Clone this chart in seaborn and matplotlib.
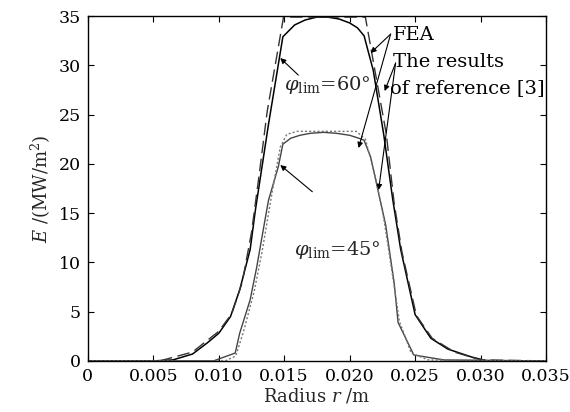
import matplotlib
matplotlib.use("Agg")
import matplotlib.pyplot as plt
import seaborn as sns
import pandas as pd

# ---- data ----
fea60_x = [0.0, 0.0050, 0.0065, 0.0080, 0.0091, 0.0100, 0.0109, 0.0116, 0.0124, 0.0128, 0.0138, 0.0149,
           0.0158, 0.0166, 0.0175, 0.0183, 0.0192, 0.0200, 0.0206, 0.0211, 0.0218, 0.0226, 0.0233,
           0.0239, 0.0250, 0.0262, 0.0275, 0.0293, 0.0305, 0.0350]
fea60_y = [0, 0, 0.1, 0.7, 1.8, 2.8, 4.5, 7.2, 11.3, 15.3, 24.0, 32.9,
           34.1, 34.6, 34.9, 34.9, 34.7, 34.3, 33.8, 33.0, 29.5, 23.0, 16.3,
           11.3, 4.7, 2.3, 1.2, 0.4, 0, 0]

ref60_x = [0.0, 0.0055, 0.0080, 0.0100, 0.0110, 0.0118, 0.0125, 0.0131, 0.0137, 0.01495, 0.0212, 0.0228,
           0.0234, 0.0240, 0.0251, 0.0263, 0.0280, 0.0300, 0.0350]
ref60_y = [0, 0, 0.9, 3.0, 4.8, 8.0, 13.0, 19.0, 25.3, 34.9, 34.9, 23.0,
           16.0, 11.0, 4.6, 2.3, 0.9, 0.1, 0]

fea45_x = [0.0, 0.0096, 0.01126, 0.0116, 0.0124, 0.0129, 0.0134, 0.0138, 0.01455, 0.0149, 0.0155,
           0.0162, 0.0170, 0.0180, 0.0190, 0.0200, 0.0207, 0.0211, 0.0216, 0.0222, 0.02275,
           0.0234, 0.0237, 0.0249, 0.0272, 0.0350]
fea45_y = [0, 0, 0.8, 2.8, 6.2, 9.5, 13.3, 16.3, 19.7, 22.0, 22.6,
           22.9, 23.1, 23.2, 23.1, 22.9, 22.6, 22.4, 20.7, 17.1, 13.8,
           7.9, 3.9, 0.6, 0.1, 0]

ref45_x = [0.0, 0.0105, 0.0113, 0.0119, 0.0127, 0.0133, 0.0140, 0.0147, 0.0152, 0.0160, 0.0205,
           0.0212, 0.0220, 0.0226, 0.0233, 0.0238, 0.0247, 0.0260, 0.0350]
ref45_y = [0, 0, 0.5, 3.0, 7.0, 11.0, 16.5, 21.7, 23.0, 23.3, 23.3,
           22.5, 18.5, 14.5, 8.5, 4.0, 0.8, 0.1, 0]

x_ticks = [0, 0.005, 0.010, 0.015, 0.020, 0.025, 0.030, 0.035]
x_tick_labels = ["0", "0.005", "0.010", "0.015", "0.020", "0.025", "0.030", "0.035"]
y_ticks = [0, 5, 10, 15, 20, 25, 30, 35]

sns.set_theme(style="ticks")
plt.rcParams["font.family"] = ["DejaVu Serif"]
plt.rcParams["mathtext.fontset"] = "dejavuserif"

fig = plt.figure(figsize=(5.70, 4.12), dpi=100)
ax = fig.add_axes([0.154, 0.124, 0.804, 0.837])

sns.lineplot(x=fea60_x, y=fea60_y, ax=ax, color="black", lw=1.1, sort=False)
sns.lineplot(x=ref60_x, y=ref60_y, ax=ax, color="#333333", lw=1.0, sort=False,
             linestyle=(0, (9, 4)))
sns.lineplot(x=fea45_x, y=fea45_y, ax=ax, color="#444444", lw=1.0, sort=False)
sns.lineplot(x=ref45_x, y=ref45_y, ax=ax, color="#777777", lw=1.0, sort=False, linestyle=(0, (1.5, 1.5)))

ax.set_xlim(0, 0.035)
ax.set_ylim(0, 35)
ax.set_xticks(x_ticks)
ax.set_xticklabels(x_tick_labels)
ax.set_yticks(y_ticks)
ax.tick_params(direction="in", top=True, right=True, length=4, width=0.8,
               labelsize=12.5, colors="black", pad=5)
for s in ax.spines.values():
    s.set_linewidth(1.0)
    s.set_color("black")

ax.set_xlabel(r"Radius $r$ /m", fontsize=13, labelpad=1)
ax.set_ylabel(r"$E$ /(MW/m$^2$)", fontsize=13, labelpad=4)

txt_kw = dict(fontsize=14, color="black", ha="left", va="top")
ax.text(0.02328, 34.0, "FEA", **txt_kw)
ax.text(0.02328, 31.3, "The results", **txt_kw)
ax.text(0.02305, 28.6, "of reference [3]", **txt_kw)

ap = dict(arrowstyle="-|>", lw=0.8, color="black", mutation_scale=8, shrinkA=0, shrinkB=0)
ax.annotate("", xy=(0.02160, 31.25), xytext=(0.02313, 33.17), arrowprops=ap)
ax.annotate("", xy=(0.02068, 21.61), xytext=(0.02313, 33.17), arrowprops=ap)
ax.annotate("", xy=(0.02267, 27.39), xytext=(0.02351, 30.23), arrowprops=ap)
ax.annotate("", xy=(0.02221, 17.35), xytext=(0.02351, 30.23), arrowprops=ap)
ax.annotate("", xy=(0.01470, 30.74), xytext=(0.01608, 29.01), arrowprops=ap)
ax.annotate("", xy=(0.01470, 19.88), xytext=(0.01715, 17.17), arrowprops=ap)

ax.text(0.01830, 28.0, r"$\varphi_{\mathrm{lim}}$=60°", fontsize=14, ha="center", va="center")
ax.text(0.01905, 11.3, r"$\varphi_{\mathrm{lim}}$=45°", fontsize=14, ha="center", va="center")

fig.savefig("out.png", dpi=100)
